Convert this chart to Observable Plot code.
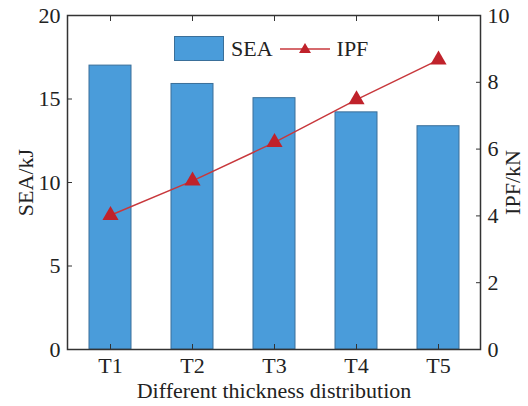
<!DOCTYPE html>
<html><head><meta charset="utf-8">
<script src="https://cdn.jsdelivr.net/npm/d3@7"></script>
<script src="https://cdn.jsdelivr.net/npm/@observablehq/plot@0.6"></script>
<style>
body{margin:0;background:#fff;}
#wrap{position:relative;width:528px;height:406px;font-family:"Liberation Serif","Times New Roman",serif;}
#legend{position:absolute;left:174px;top:36px;display:flex;align-items:center;font-size:22px;color:#222;line-height:24px}
#wrap svg.chart{position:absolute;left:0;top:0}
</style></head><body><div id="wrap"><div id="legend"><svg width="50" height="25"><rect x="0.5" y="0.5" width="49" height="24" fill="#4a9cda" stroke="#3a6f99"/></svg><span style="margin-left:7px">SEA</span><svg width="50" height="14" style="margin-left:7px"><line x1="0" y1="7" x2="50" y2="7" stroke="#c8383c" stroke-width="1.5"/><path d="M25,1 L31,11 L19,11Z" fill="#c0222b"/></svg><span style="margin-left:7px">IPF</span></div></div>
<script>
const categories = ["T1", "T2", "T3", "T4", "T5"];
const sea = [17.0, 15.9, 15.05, 14.2, 13.37];
const ipf = [4.02, 5.05, 6.2, 7.48, 8.67];
const seaTicks = [0, 5, 10, 15, 20];
const ipfTicks = [0, 2, 4, 6, 8, 10];

const data = categories.map((c, i) => ({cat: c, sea: sea[i], ipf: ipf[i]}));
const ipfToY = d3.scaleLinear([0, 10], [0, 20]);

const chart = Plot.plot({
  width: 528,
  height: 406,
  marginLeft: 67,
  marginRight: 48,
  marginTop: 15,
  marginBottom: 57,
  style: {fontFamily: '"Liberation Serif","Times New Roman",serif', fontSize: "22px", color: "#222", background: "transparent", overflow: "visible"},
  x: {domain: categories, paddingInner: 0.49, paddingOuter: 0.245},
  y: {domain: [0, 20]},
  marks: [
    Plot.barY(data, {x: "cat", y: "sea", fill: "#4a9cda", stroke: "#3a6f99", strokeWidth: 1}),
    Plot.line(data, {x: "cat", y: d => ipfToY(d.ipf), stroke: "#c8383c", strokeWidth: 1.5}),
    Plot.dot(data, {x: "cat", y: d => ipfToY(d.ipf), symbol: "triangle", r: 6, fill: "#c0222b"}),
    Plot.frame({stroke: "#333", strokeWidth: 1.5}),
    Plot.axisY(seaTicks, {anchor: "left", tickSize: 0, tickPadding: 7, label: "SEA/kJ", labelAnchor: "center", labelOffset: 50, labelArrow: "none"}),
    Plot.axisY(seaTicks, {anchor: "left", text: null, tickSize: 5, dx: 5, label: null, stroke: "#333"}),
    Plot.axisY(ipfTicks.map(ipfToY), {anchor: "right", tickSize: 0, tickPadding: 7, tickFormat: d => ipfToY.invert(d), label: null}),
    Plot.axisY(ipfTicks.map(ipfToY), {anchor: "right", text: null, tickSize: 5, dx: -5, label: null, stroke: "#333"}),
    Plot.text(["IPF/kN"], {frameAnchor: "right", rotate: -90, dx: 32, textAnchor: "middle", lineAnchor: "middle", fill: "#222"}),
    Plot.axisX({anchor: "bottom", tickSize: 0, tickPadding: 8, label: "Different thickness distribution", labelAnchor: "center", labelOffset: 48, labelArrow: "none"}),
    Plot.axisX({anchor: "bottom", text: null, tickSize: 5, dy: -5, label: null, stroke: "#333"}),
    Plot.axisX({anchor: "top", text: null, tickSize: 5, dy: 5, label: null, stroke: "#333"})
  ]
});
chart.classList.add("chart");
document.getElementById("wrap").prepend(chart);
</script>
</body></html>
